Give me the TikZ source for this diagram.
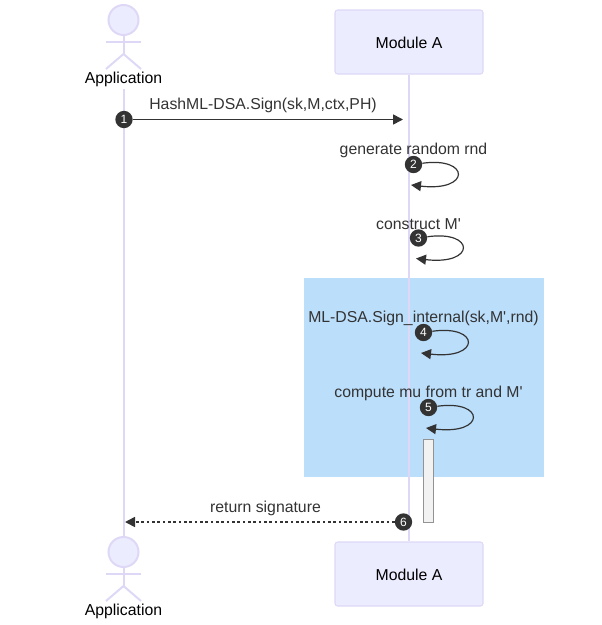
\documentclass[tikz,border=0pt]{standalone}
\usepackage{fontspec}
\setmainfont{Liberation Sans}
\usepackage{tikz}
\usetikzlibrary{arrows.meta,positioning}
\definecolor{lifecol}{HTML}{DED8F6}
\definecolor{boxfill}{HTML}{ECECFF}
\definecolor{inkcol}{HTML}{333333}
\definecolor{groupcol}{HTML}{BBDEFB}
\newcommand{\actorfig}[2]{%
  \node[actorhead] (#1) at (123.5,#2) {};
  \coordinate (#1hip) at (123.5,#2+34);
  \coordinate (#1arml) at (106,#2+22);
  \coordinate (#1armr) at (141,#2+22);
  \coordinate (#1legl) at (106,#2+49);
  \coordinate (#1legr) at (141,#2+49);
  \draw[lifeline] (#1) -- (#1hip);
  \draw[lifeline] (#1arml) -- (#1armr);
  \draw[lifeline] (#1legl) -- (#1hip) -- (#1legr);
}

\begin{document}
\begin{tikzpicture}[
  x=0.75pt, y=-0.75pt,
  lifeline/.style={draw=lifecol, line width=1.5pt},
  actorhead/.style={circle, draw=lifecol, line width=1.5pt, fill=boxfill,
    inner sep=0pt, minimum size=22.5pt},
  actorname/.style={text=black, font=\fontsize{11.85}{14}\selectfont, inner sep=1pt},
  modbox/.style={draw=lifecol, line width=0.8pt, fill=boxfill, rounded corners=2pt,
    minimum width=111pt, minimum height=48pt, text=black,
    font=\fontsize{11.85}{14}\selectfont},
  msgtext/.style={text=inkcol, font=\fontsize{11.85}{14}\selectfont, inner sep=0pt},
  badge/.style={circle, fill=inkcol, text=white, inner sep=0pt, minimum size=13pt,
    font=\fontsize{9}{9}\selectfont},
  msgarrow/.style={-{Triangle[length=7.5pt,width=7.5pt]}, draw=inkcol, line width=1.2pt},
  retarrow/.style={msgarrow, dash pattern=on 2pt off 2pt},
  selfarrow/.style={msgarrow, line width=0.9pt}]
\useasboundingbox (0,0) rectangle (601,625);
% group behind the lifelines
\node[fill=groupcol, inner sep=0pt, minimum width=180pt, minimum height=149.25pt]
  (group) at (424,377) {};
% participants
\node[modbox] (modtop) at (409,42) {\raisebox{-4.5pt}[0pt][0pt]{Module A}};
\node[modbox] (modbot) at (409,574) {\raisebox{-4.5pt}[0pt][0pt]{Module A}};
\node[actorname] (apptext) at (123.5,79) {Application};
\node[actorname] (appbottext) at (123.5,611) {Application};
\actorfig{apptop}{20}
\actorfig{appbot}{552}
\coordinate (applife) at (123.5,89);
\draw[lifeline] (applife) -- (appbot);
\draw[lifeline] (modtop) -- (modbot);
% activation
\node[draw=gray!85, fill=gray!10, line width=0.6pt, inner sep=0pt,
  minimum width=7.5pt, minimum height=62.25pt] (active) at (428.5,480.5) {};
% messages
\node[msgtext] (label1) at (263,105) {HashML-DSA.Sign(sk,M,ctx,PH)};
\node[msgtext] (label2) at (413.5,150) {generate random rnd};
\node[msgtext] (label3) at (418.5,224) {construct M\textquotesingle};
\node[msgtext] (label4) at (423.5,318) {ML-DSA.Sign\_internal(sk,M\textquotesingle,rnd)};
\node[msgtext] (label5) at (428.5,393) {compute mu from tr and M\textquotesingle};
\node[msgtext] (label6) at (265.5,508) {return signature};
\node[badge] (step1) at (124,119.5) {1};
\node[badge] (step2) at (413.5,164.5) {2};
\node[badge] (step3) at (418.5,238) {3};
\node[badge] (step4) at (423.5,332.5) {4};
\node[badge] (step5) at (428.5,407.5) {5};
\node[badge] (step6) at (403.5,522) {6};
\coordinate (end1) at (403,119.5);
\coordinate (end2) at (411,185);
\coordinate (end3) at (416,258.5);
\coordinate (end4) at (421,353);
\coordinate (end5) at (426,428);
\coordinate (end6) at (125,522);
\draw[msgarrow] (step1) -- (end1);
\draw[selfarrow] (step2) .. controls +(57,-8) and +(60,7) .. (end2);
\draw[selfarrow] (step3) .. controls +(57,-8) and +(60,7) .. (end3);
\draw[selfarrow] (step4) .. controls +(57,-8) and +(60,7) .. (end4);
\draw[selfarrow] (step5) .. controls +(57,-8) and +(60,7) .. (end5);
\draw[retarrow] (step6) -- (end6);
\end{tikzpicture}
\end{document}
